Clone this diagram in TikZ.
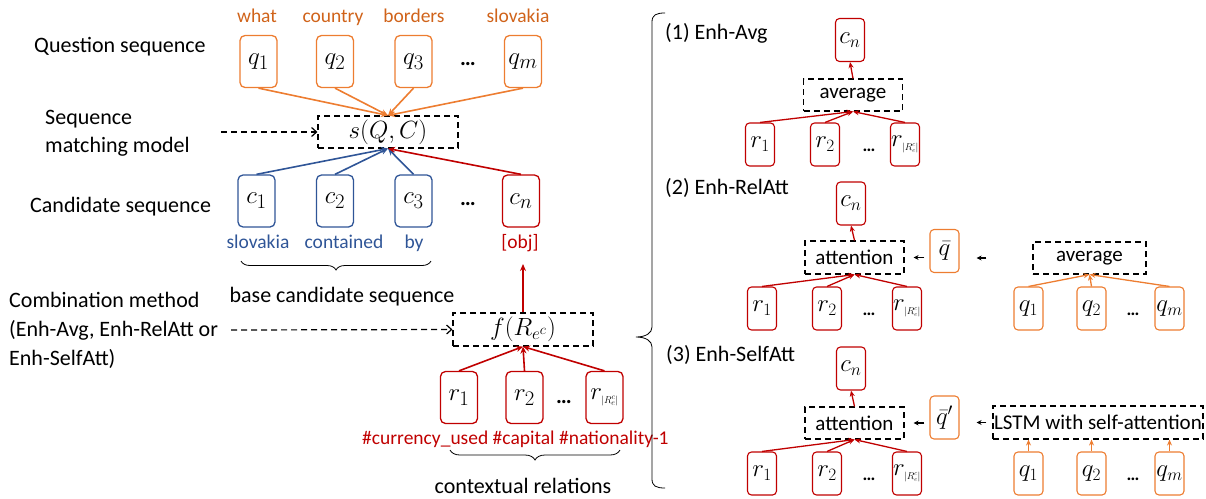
\documentclass[tikz,border=0pt]{standalone}
\usepackage{fontspec}
\setmainfont{Carlito}
\usepackage{graphicx}
\usetikzlibrary{arrows.meta,decorations.pathreplacing,calc}
\definecolor{qorange}{HTML}{ED7D31}
\definecolor{qword}{HTML}{D0631A}
\definecolor{cblue}{HTML}{2F5597}
\definecolor{rred}{HTML}{C00000}
\newcommand{\relset}{r_{\scalebox{0.4}{$|R_e^c|$}}}
\begin{document}
\begin{tikzpicture}[x=1pt,y=-1pt,
  tok/.style={draw, rounded corners=5pt, line width=1.3pt, minimum width=37pt, minimum height=52pt, inner sep=0pt, font=\fontsize{30}{34}\selectfont},
  stok/.style={tok, rounded corners=4pt, line width=1.1pt, minimum width=29pt, minimum height=43pt, font=\fontsize{25}{29}\selectfont},
  op/.style={draw, dashed, dash pattern=on 6pt off 4pt, line width=1.1pt, inner sep=0pt, font=\fontsize{27}{31}\selectfont},
  sop/.style={op, font=\fontsize{21}{25}\selectfont},
  arr/.style={line width=1.6pt, -{Stealth[length=7pt,width=6pt]}},
  sarr/.style={line width=1.3pt, -{Stealth[length=6pt,width=5pt]}},
  darr/.style={line width=1.2pt, dashed, dash pattern=on 6pt off 4pt, -{Straight Barb[length=5pt,width=9pt]}},
  karr/.style={line width=1.1pt, -{Stealth[length=5pt,width=5pt]}},
  txt/.style={font=\fontsize{22}{26}\selectfont, inner sep=0pt},
  lbl/.style={font=\fontsize{19.5}{23}\selectfont, inner sep=0pt, text height=1.4ex, text depth=.3ex},
  dots/.style={font=\fontsize{22}{26}\selectfont\bfseries, inner sep=0pt},
  sdots/.style={font=\fontsize{18}{22}\selectfont\bfseries, inner sep=0pt},
  brc/.style={decorate, line width=0.8pt}
]
\useasboundingbox (0,0) rectangle (1206,498);

% ---------------- left: sequence matching ----------------
\node[txt, anchor=west] (lq) at (34,47) {Question sequence};
\node[txt, anchor=west, align=left] (lsm) at (45,133) {Sequence\\[2pt]matching model};
\node[txt, anchor=west] (lc) at (30,207) {Candidate sequence};
\node[txt, anchor=west, align=left] (lcomb) at (9,330) {Combination method\\[3pt](Enh-Avg, Enh-RelAtt or\\[3pt]Enh-SelfAtt)};

% question tokens
\node[lbl, text=qword] (w1) at (257,20) {what};
\node[lbl, text=qword] (w2) at (333,20) {country};
\node[lbl, text=qword] (w3) at (414,20) {borders};
\node[lbl, text=qword] (w4) at (518,20) {slovakia};
\node[tok, draw=qorange] (q1) at (258.5,61.5) {$q_1$};
\node[tok, draw=qorange] (q2) at (335,61.5) {$q_2$};
\node[tok, draw=qorange] (q3) at (413.5,61.5) {$q_3$};
\node[dots] (qd) at (468,64) {…};
\node[tok, draw=qorange] (qm) at (523,61.5) {$q_m$};

% matching model
\node[op, minimum width=140pt, minimum height=32pt] (s) at (388,132) {$s(Q,C)$};
\coordinate (sin) at (221,132);
\draw[darr] (sin) -- (s.west);
\foreach \n in {q1,q2,q3,qm} \draw[arr, qorange] (\n.south) -- (s.north);

% candidate tokens
\node[tok, draw=cblue] (c1) at (256.5,201) {$c_1$};
\node[tok, draw=cblue] (c2) at (335,201) {$c_2$};
\node[tok, draw=cblue] (c3) at (413.5,201) {$c_3$};
\node[dots] (cd) at (468,204) {…};
\node[tok, draw=rred] (cn) at (521,201) {$c_n$};
\foreach \n in {c1,c2,c3} \draw[arr, cblue] (\n.north) -- (s.south);
\draw[arr, rred] (cn.north) -- (s.south);

\node[lbl, text=cblue] (l1) at (258,246) {slovakia};
\node[lbl, text=cblue] (l2) at (344,246) {contained};
\node[lbl, text=cblue] (l3) at (414,246) {by};
\node[lbl, text=rred] (lobj) at (520,246) {[obj]};
\draw[brc, decoration={brace, mirror, amplitude=9pt}] (241,261) -- (431,261);
\node[txt] (lbase) at (342,297) {base candidate sequence};

% combination of contextual relations
\node[op, minimum width=140pt, minimum height=33pt] (f) at (523,329.5) {$f(R_{e^c})$};
\coordinate (fin) at (231,330);
\draw[darr] (fin) -- (f.west);
\coordinate (objend) at (523,264);
\draw[arr, rred] (f.north) -- (objend);

\node[tok, draw=rred] (r1) at (459,397.5) {$r_1$};
\node[tok, draw=rred] (r2) at (524.5,397.5) {$r_2$};
\node[dots] (rd) at (564,402) {…};
\node[tok, draw=rred] (rR) at (604.5,397.5) {$\relset$};
\foreach \n in {r1,r2,rR} \draw[arr, rred] (\n.north) -- (f.south);
\node[lbl, text=rred, anchor=west] (rel) at (362,442) {\#currency\_used \#capital \#nationality-1};
\draw[brc, decoration={brace, mirror, amplitude=10pt}] (450,450) -- (620,450);
\node[txt] (lctx) at (523,486) {contextual relations};

% big brace grouping the three variants
\draw[line width=0.8pt] (665,13) .. controls (656,13) and (652,15) .. (652,22) -- (652,327)
  .. controls (652,333) and (646,337) .. (636,337)
  .. controls (646,337) and (652,341) .. (652,347) -- (652,479)
  .. controls (652,486) and (656,488) .. (665,488);

% ---------------- (1) Enh-Avg ----------------
\node[txt, anchor=west] (h1) at (665,33) {(1) Enh-Avg};
\node[stok, draw=rred] (a_cn) at (850,40) {$c_n$};
\node[sop, minimum width=99pt, minimum height=32pt] (a_avg) at (853,95) {average};
\node[stok, draw=rred] (a_r1) at (760,144.5) {$r_1$};
\node[stok, draw=rred] (a_r2) at (825,144.5) {$r_2$};
\node[sdots] (a_rd) at (869,150) {…};
\node[stok, draw=rred] (a_rR) at (905,144.5) {$\relset$};
\foreach \n in {a_r1,a_r2,a_rR} \draw[sarr, rred] (\n.north) -- (a_avg.south);
\draw[sarr, rred] (a_avg.north) -- (a_cn.south);

% ---------------- (2) Enh-RelAtt ----------------
\node[txt, anchor=west] (h2) at (665,188) {(2) Enh-RelAtt};
\node[stok, draw=rred] (b_cn) at (851,203.5) {$c_n$};
\node[sop, minimum width=99pt, minimum height=33pt] (b_att) at (854.5,257.5) {attention};
\node[stok, draw=qorange] (b_qb) at (944.5,251) {$\bar q$};
\node[sop, minimum width=113pt, minimum height=32pt] (b_avg) at (1089.5,258) {average};
\node[stok, draw=rred] (b_r1) at (762,308.5) {$r_1$};
\node[stok, draw=rred] (b_r2) at (827,308.5) {$r_2$};
\node[sdots] (b_rd) at (869,314) {…};
\node[stok, draw=rred] (b_rR) at (907,308.5) {$\relset$};
\node[stok, draw=qorange] (b_q1) at (1028.5,308.5) {$q_1$};
\node[stok, draw=qorange] (b_q2) at (1091.5,308.5) {$q_2$};
\node[sdots] (b_qd) at (1133,314) {…};
\node[stok, draw=qorange] (b_qm) at (1169.5,308.5) {$q_m$};
\foreach \n in {b_r1,b_r2,b_rR} \draw[sarr, rred] (\n.north) -- (b_att.south);
\foreach \n in {b_q1,b_q2,b_qm} \draw[sarr, qorange] (\n.north) -- (b_avg.south);
\draw[sarr, rred] (b_att.north) -- (b_cn.south);
\draw[karr, shorten <=5pt, shorten >=9pt] (b_qb.west |- b_att.east) -- (b_att.east);
\draw[karr, shorten <=46pt, shorten >=17pt] (b_avg.west) -- (b_qb.east |- b_avg.west);

% ---------------- (3) Enh-SelfAtt ----------------
\node[txt, anchor=west] (h3) at (666,355) {(3) Enh-SelfAtt};
\node[stok, draw=rred] (c_cn) at (851,368.5) {$c_n$};
\node[sop, minimum width=99pt, minimum height=32pt] (c_att) at (854.5,423) {attention};
\node[stok, draw=qorange] (c_qb) at (944.5,417.5) {$\bar q'$};
\node[sop, minimum width=210pt, minimum height=33pt] (c_lstm) at (1098,422.5) {LSTM with self-attention};
\node[stok, draw=rred] (c_r1) at (762,473.5) {$r_1$};
\node[stok, draw=rred] (c_r2) at (827,473.5) {$r_2$};
\node[sdots] (c_rd) at (869,479) {…};
\node[stok, draw=rred] (c_rR) at (907,473.5) {$\relset$};
\node[stok, draw=qorange] (c_q1) at (1028.5,473.5) {$q_1$};
\node[stok, draw=qorange] (c_q2) at (1091.5,473.5) {$q_2$};
\node[sdots] (c_qd) at (1133,479) {…};
\node[stok, draw=qorange] (c_qm) at (1169.5,473.5) {$q_m$};
\foreach \n in {c_r1,c_r2,c_rR} \draw[sarr, rred] (\n.north) -- (c_att.south);
\foreach \n in {c_q1,c_q2,c_qm} \draw[sarr, qorange] (\n.north) -- (\n.north |- c_lstm.south);
\draw[sarr, rred] (c_att.north) -- (c_cn.south);
\draw[karr, shorten <=5pt, shorten >=9pt] (c_qb.west |- c_att.east) -- (c_att.east);
\draw[karr, shorten <=6pt, shorten >=17pt] (c_lstm.west) -- (c_qb.east |- c_lstm.west);
\end{tikzpicture}
\end{document}
